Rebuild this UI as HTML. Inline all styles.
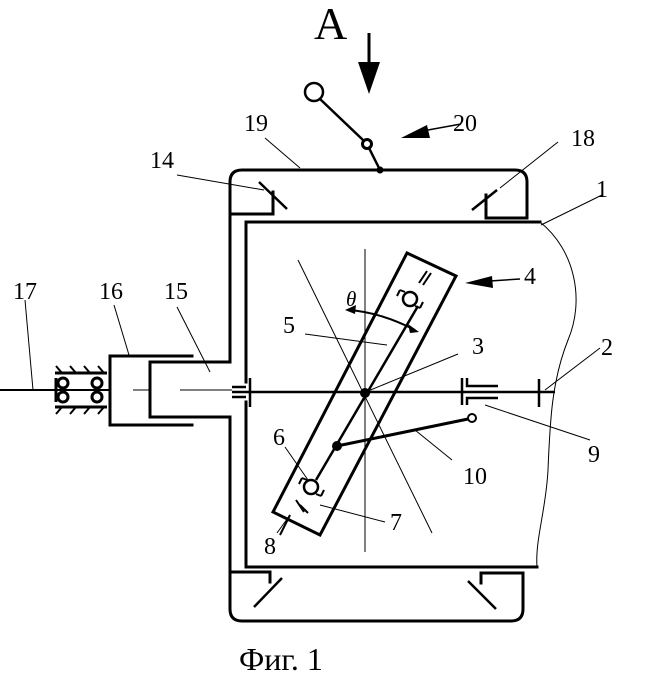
<!DOCTYPE html>
<html><head><meta charset="utf-8"><style>
html,body{margin:0;padding:0;background:#fff}
svg{display:block}
text{font-family:"Liberation Serif",serif;fill:#000}
</style></head><body>
<svg width="646" height="681" viewBox="0 0 646 681" xmlns="http://www.w3.org/2000/svg">
<g fill="none" stroke="#000" stroke-width="3" stroke-linecap="square">
<path d="M230 362 V182 Q230 170 242 170 H515 Q527 170 527 182 V218 H486 V195"/>
<path d="M230 190 V214 H273 V192"/>
<path d="M230 417 V609 Q230 621 242 621 H511 Q523 621 523 609 V573 H481 V583"/>
<path d="M230 572 H270 V582"/>
<path d="M230 362 H150 V417 H230"/>
<path d="M246 382 V222 H540"/>
<path d="M246 402 V567 H537"/>
<path d="M192 356 H110 V425 H192"/>
</g>
<g stroke="#000" stroke-width="2.5" fill="none">
<line x1="259" y1="182" x2="287" y2="209"/>
<line x1="472" y1="210" x2="497" y2="190"/>
<line x1="254" y1="607" x2="282" y2="578"/>
<line x1="468" y1="581" x2="496" y2="609"/>
</g>
<path d="M540 222 C575 250 585 300 568 340 C552 380 550 420 548 470 C546 510 535 540 537 567" fill="none" stroke="#000" stroke-width="1"/>
<line x1="0" y1="390" x2="110" y2="390" stroke="#000" stroke-width="2"/>
<line x1="133" y1="390" x2="150" y2="390" stroke="#000" stroke-width="1"/>
<line x1="180" y1="390" x2="232" y2="390" stroke="#000" stroke-width="1"/>
<line x1="232" y1="392" x2="555" y2="392" stroke="#000" stroke-width="2.5"/>
<g stroke="#000" stroke-width="2.5" fill="none">
<line x1="250" y1="378" x2="250" y2="407"/>
<line x1="232" y1="387" x2="246" y2="387"/><line x1="232" y1="397" x2="246" y2="397"/>
<line x1="462" y1="378" x2="462" y2="405"/>
<path d="M467 378 V386 H498"/><path d="M467 405 V398 H498"/>
<line x1="539" y1="379" x2="539" y2="407"/>
</g>
<g stroke="#000" stroke-width="3" fill="none">
<line x1="55" y1="373" x2="107" y2="373"/><line x1="55" y1="407" x2="107" y2="407"/>
<circle cx="63" cy="383" r="5"/><circle cx="63" cy="397" r="5"/>
<circle cx="97" cy="383" r="5"/><circle cx="97" cy="397" r="5"/>
<line x1="56" y1="378" x2="56" y2="402"/>
</g>
<g stroke="#000" stroke-width="2">
<line x1="62" y1="373" x2="56" y2="366"/><line x1="76" y1="373" x2="70" y2="366"/><line x1="90" y1="373" x2="84" y2="366"/><line x1="104" y1="373" x2="98" y2="366"/>
<line x1="62" y1="407" x2="56" y2="414"/><line x1="76" y1="407" x2="70" y2="414"/><line x1="90" y1="407" x2="84" y2="414"/><line x1="104" y1="407" x2="98" y2="414"/>
</g>
<line x1="365" y1="249" x2="365" y2="552" stroke="#000" stroke-width="1"/>
<line x1="298" y1="260" x2="432" y2="533" stroke="#000" stroke-width="1"/>
<polygon points="407,253 456,276 320,535 273,512" fill="none" stroke="#000" stroke-width="3"/>
<line x1="418" y1="306" x2="316" y2="480" stroke="#000" stroke-width="2.5"/>
<circle cx="410" cy="299" r="7" fill="#fff" stroke="#000" stroke-width="2.5"/>
<circle cx="311" cy="487" r="7" fill="#fff" stroke="#000" stroke-width="2.5"/>
<g stroke="#000" stroke-width="2" fill="none">
<path d="M400 290 l-3 6 M400 290 l5 2"/><path d="M420 308 l3 -6 M420 308 l-5 -2"/>
<line x1="419" y1="283" x2="427" y2="271"/><line x1="423" y1="285" x2="431" y2="273"/>
<path d="M302 478 l-3 6 M302 478 l5 2"/><path d="M321 496 l3 -6 M321 496 l-5 -2"/>
<line x1="296" y1="500" x2="304" y2="512"/><line x1="300" y1="505" x2="308" y2="513"/>
<line x1="290" y1="515" x2="280" y2="535"/>
</g>
<circle cx="365" cy="393" r="5" fill="#000"/>
<circle cx="337" cy="446" r="5" fill="#000"/>
<line x1="337" y1="446" x2="468" y2="419" stroke="#000" stroke-width="3"/>
<circle cx="472" cy="418" r="4" fill="#fff" stroke="#000" stroke-width="2"/>
<path d="M348 310 Q380 312 415 330" fill="none" stroke="#000" stroke-width="2"/>
<polygon points="345,310 356,305 355,314" fill="#000"/>
<polygon points="419,332 408,324 410,333" fill="#000"/>
<circle cx="314" cy="92" r="9" fill="#fff" stroke="#000" stroke-width="2.5"/>
<line x1="320" y1="99" x2="363" y2="140" stroke="#000" stroke-width="2.5"/>
<circle cx="367" cy="144" r="4.5" fill="#fff" stroke="#000" stroke-width="3"/>
<line x1="369" y1="148" x2="380" y2="170" stroke="#000" stroke-width="2.5"/>
<circle cx="380" cy="170" r="3.5" fill="#000"/>
<line x1="369" y1="33" x2="369" y2="70" stroke="#000" stroke-width="3"/>
<polygon points="358,62 380,62 369,94" fill="#000"/>
<line x1="461" y1="124" x2="428" y2="130" stroke="#000" stroke-width="1.5"/>
<polygon points="401,138 427,125 430,138" fill="#000"/>
<line x1="520" y1="279" x2="490" y2="281" stroke="#000" stroke-width="1.5"/>
<polygon points="465,283 492,276 493,288" fill="#000"/>
<g stroke="#000" stroke-width="1">
<line x1="265" y1="138" x2="300" y2="168"/>
<line x1="558" y1="142" x2="500" y2="188"/>
<line x1="602" y1="195" x2="541" y2="225"/>
<line x1="177" y1="175" x2="264" y2="190"/>
<line x1="25" y1="300" x2="33" y2="390"/>
<line x1="114" y1="305" x2="129" y2="355"/>
<line x1="177" y1="307" x2="210" y2="372"/>
<line x1="305" y1="334" x2="387" y2="345"/>
<line x1="458" y1="354" x2="368" y2="391"/>
<line x1="600" y1="348" x2="545" y2="390"/>
<line x1="590" y1="440" x2="485" y2="405"/>
<line x1="452" y1="460" x2="415" y2="430"/>
<line x1="285" y1="447" x2="308" y2="480"/>
<line x1="385" y1="522" x2="320" y2="505"/>
<line x1="277" y1="533" x2="290" y2="515"/>
</g>
<text x="314" y="39" font-size="46">A</text>
<text x="453" y="131" font-size="24">20</text>
<text x="244" y="131" font-size="24">19</text>
<text x="571" y="146" font-size="24">18</text>
<text x="150" y="168" font-size="24">14</text>
<text x="596" y="197" font-size="24">1</text>
<text x="524" y="284" font-size="24">4</text>
<text x="601" y="355" font-size="24">2</text>
<text x="472" y="354" font-size="24">3</text>
<text x="283" y="333" font-size="24">5</text>
<text x="346" y="306" font-size="21" font-style="italic">θ</text>
<text x="13" y="299" font-size="24">17</text>
<text x="99" y="299" font-size="24">16</text>
<text x="164" y="299" font-size="24">15</text>
<text x="273" y="445" font-size="24">6</text>
<text x="463" y="484" font-size="24">10</text>
<text x="588" y="462" font-size="24">9</text>
<text x="390" y="530" font-size="24">7</text>
<text x="264" y="554" font-size="24">8</text>
<text x="239" y="670" font-size="32">Фиг. 1</text>
</svg>
</body></html>
